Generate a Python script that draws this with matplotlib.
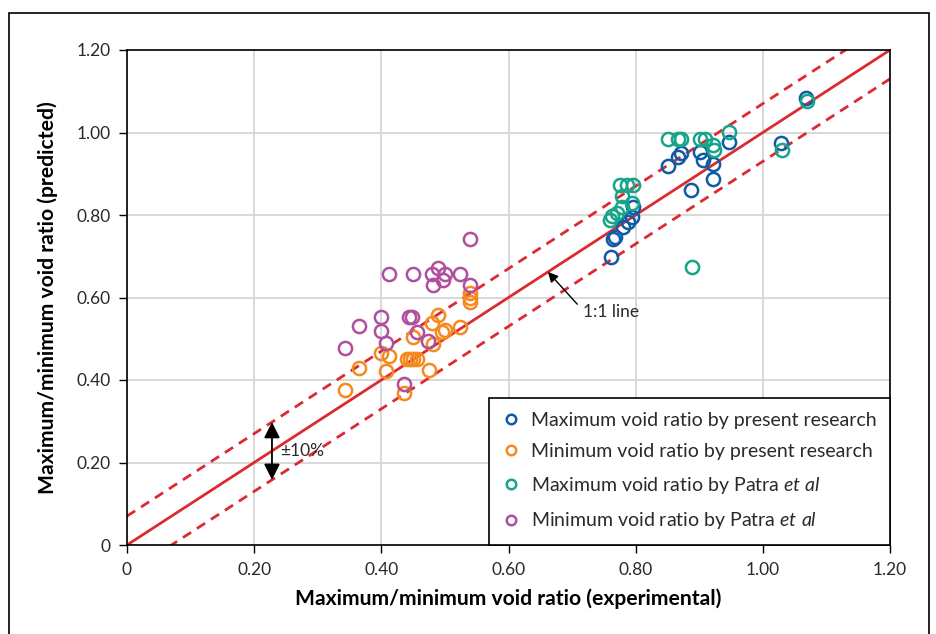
import numpy as np
import matplotlib
matplotlib.use("Agg")
import matplotlib.pyplot as plt
from matplotlib.patches import Rectangle

# data (experimental x, predicted y)
blue_x = [0.761, 0.764, 0.767, 0.780, 0.788, 0.794, 0.796, 0.851, 0.866, 0.871,
          0.887, 0.901, 0.906, 0.921, 0.921, 0.947, 1.028, 1.068]
blue_y = [0.698, 0.742, 0.747, 0.771, 0.783, 0.795, 0.819, 0.919, 0.941, 0.950,
          0.861, 0.953, 0.933, 0.924, 0.887, 0.977, 0.975, 1.084]

orange_x = [0.343, 0.365, 0.399, 0.412, 0.407, 0.436, 0.440, 0.445, 0.450, 0.456,
            0.450, 0.475, 0.481, 0.480, 0.489, 0.495, 0.500, 0.524, 0.539, 0.539, 0.540]
orange_y = [0.376, 0.429, 0.465, 0.458, 0.422, 0.368, 0.451, 0.451, 0.451, 0.451,
            0.504, 0.424, 0.487, 0.538, 0.558, 0.516, 0.521, 0.528, 0.611, 0.589, 0.600]

green_x = [0.759, 0.763, 0.770, 0.778, 0.778, 0.794, 0.775, 0.786, 0.796, 0.851,
           0.866, 0.871, 0.888, 0.901, 0.909, 0.921, 0.923, 0.947, 1.030, 1.069]
green_y = [0.788, 0.797, 0.806, 0.820, 0.845, 0.829, 0.872, 0.872, 0.872, 0.984,
           0.984, 0.984, 0.674, 0.984, 0.984, 0.970, 0.958, 1.001, 0.958, 1.076]

purple_x = [0.343, 0.365, 0.399, 0.399, 0.407, 0.412, 0.436, 0.443, 0.448, 0.450,
            0.456, 0.473, 0.480, 0.481, 0.489, 0.497, 0.500, 0.524, 0.539, 0.539]
purple_y = [0.478, 0.531, 0.553, 0.519, 0.490, 0.657, 0.390, 0.553, 0.553, 0.657,
            0.516, 0.495, 0.657, 0.630, 0.671, 0.642, 0.657, 0.657, 0.630, 0.742]

series_labels = ["Maximum void ratio by present research",
                 "Minimum void ratio by present research",
                 "Maximum void ratio by Patra $\\it{et\\ al}$",
                 "Minimum void ratio by Patra $\\it{et\\ al}$"]
ticks = [0, 0.2, 0.4, 0.6, 0.8, 1.0, 1.2]
tick_labels = ["0", "0.20", "0.40", "0.60", "0.80", "1.00", "1.20"]
band = 0.07

colors = ["#0f5ba6", "#f58a1f", "#17a589", "#b04f9e"]
red = "#dc2a30"
text_grey = "#2a2a2a"

plt.rcParams["font.family"] = ["Lato", "DejaVu Sans"]
plt.rcParams["mathtext.fontset"] = "custom"
plt.rcParams["mathtext.it"] = "Lato:italic"

fig = plt.figure(figsize=(9.36, 6.34), dpi=100)
ax = fig.add_axes([127 / 936, 1 - 545 / 634, 763 / 936, 495 / 634])

# outer frame
fig.add_artist(Rectangle((9 / 936, -0.05), 920 / 936, 1 - 13 / 634 + 0.05,
                         transform=fig.transFigure, fill=False, ec="black", lw=1.2))

line_x = np.array([0, 1.2])
ax.plot(line_x, line_x, color=red, lw=2, zorder=2)
ax.plot(line_x, line_x + band, color=red, lw=2, ls=(0, (3.5, 2.5)), zorder=2)
ax.plot(line_x, line_x - band, color=red, lw=2, ls=(0, (3.5, 2.5)), zorder=2)

for xs, ys, c, lab in zip([blue_x, orange_x, green_x, purple_x],
                          [blue_y, orange_y, green_y, purple_y], colors, series_labels):
    ax.plot(xs, ys, ls="none", marker="o", ms=9.5, mfc="none", mec=c, mew=1.8,
            label=lab, zorder=3)

ax.set_xlim(0, 1.2)
ax.set_ylim(0, 1.2)
ax.set_xticks(ticks)
ax.set_yticks(ticks)
ax.set_xticklabels(tick_labels, fontsize=12.5)
ax.set_yticklabels(tick_labels, fontsize=12.5)
ax.tick_params(direction="out", length=6, width=1, colors="black", pad=6)
for lbl in ax.get_xticklabels() + ax.get_yticklabels():
    lbl.set_color(text_grey)
ax.grid(True, color="#d6d6d6", lw=1.3, zorder=0)
ax.set_axisbelow(True)
for s in ax.spines.values():
    s.set_linewidth(1.2)

ax.set_xlabel("Maximum/minimum void ratio (experimental)",
              fontweight="bold", fontsize=15.2, labelpad=8, color="black")
ax.set_ylabel("Maximum/minimum void ratio (predicted)",
              fontweight="bold", fontsize=15.2, labelpad=13, color="black")

# annotations
ax.annotate("1:1 line", xy=(0.662, 0.662), xytext=(0.717, 0.565),
            textcoords="data", ha="left", va="center", fontsize=12.5, color=text_grey,
            arrowprops=dict(arrowstyle="-|>", color="black", lw=1, mutation_scale=15,
                            shrinkA=3, shrinkB=0, relpos=(0, 0.6)))
ax.annotate("", xy=(0.228, 0.228 + band), xytext=(0.228, 0.228 - band),
            arrowprops=dict(arrowstyle="<|-|>", color="black", lw=1.3,
                            mutation_scale=24, shrinkA=0, shrinkB=0), zorder=4)
ax.text(0.241, 0.227, "\u00b110%", ha="left", va="center", fontsize=12.5, color=text_grey)

leg = ax.legend(loc="lower right", fontsize=14, frameon=True, fancybox=False,
                edgecolor="black", borderaxespad=0, markerscale=0.72,
                handlelength=0.9, handletextpad=0.55, labelspacing=0.75,
                borderpad=0.7, framealpha=1)
leg.get_frame().set_linewidth(1.2)
for t in leg.get_texts():
    t.set_color(text_grey)

fig.savefig("out.png", dpi=100)
